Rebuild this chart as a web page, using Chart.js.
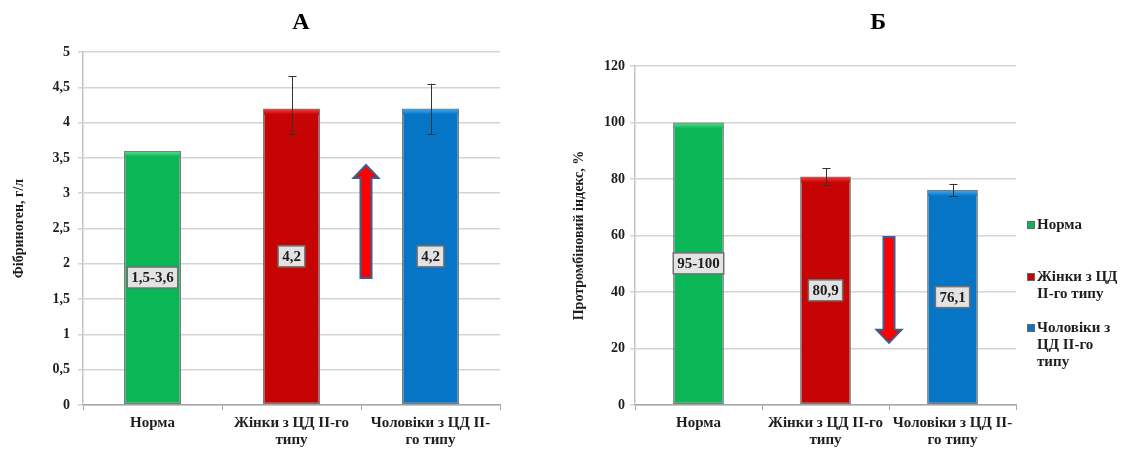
<!DOCTYPE html>
<html>
<head>
<meta charset="utf-8">
<script src="https://cdn.jsdelivr.net/npm/chart.js@4"></script>
<style>
  html, body { margin: 0; padding: 0; background: #fff; }
  #wrap { position: relative; width: 1121px; height: 450px; }
  .panel { position: absolute; top: 0; height: 450px; }
  #pa { left: 0; width: 560px; }
  #pb { left: 560px; width: 561px; }
</style>
</head>
<body>
<div id="wrap">
  <div class="panel" id="pa"><canvas id="ca"></canvas></div>
  <div class="panel" id="pb"><canvas id="cb"></canvas></div>
</div>
<script>
// Shared categories and colours
const categories = [["Норма"], ["Жінки з ЦД ІІ-го", "типу"], ["Чоловіки з ЦД ІІ-", "го типу"]];
const legendNames = [["Норма"], ["Жінки з ЦД", "ІІ-го типу"], ["Чоловіки з", "ЦД ІІ-го", "типу"]];
const barColors = ["#0bb656", "#c70404", "#0775c6"];
const barHighlights = ["#4fd98a", "#ee3a3a", "#3fa3ea"];

// Panel А: fibrinogen, g/l
const fibrinogen = [3.6, 4.2, 4.2];
const fibrinogenLabels = ["1,5-3,6", "4,2", "4,2"];
const fibrinogenErrLow = [null, 3.84, 3.84];
const fibrinogenErrHigh = [null, 4.66, 4.55];
const fibrinogenArrow = [1.8, 3.4];          // from, to (upward)
const fibrinogenTicks = [0, 0.5, 1, 1.5, 2, 2.5, 3, 3.5, 4, 4.5, 5];

// Panel Б: prothrombin index, %
const prothrombin = [100, 80.9, 76.1];
const prothrombinLabels = ["95-100", "80,9", "76,1"];
const prothrombinErrLow = [null, 77.8, 73.9];
const prothrombinErrHigh = [null, 83.9, 78.3];
const prothrombinArrow = [59.5, 22];         // from, to (downward)
const prothrombinTicks = [0, 20, 40, 60, 80, 100, 120];

const serif = '"Liberation Serif", "Times New Roman", serif';
const textColor = '#1e1e1e';

// Big letter above each panel
const panelTitle = {
  id: 'panelTitle',
  afterDraw(chart, args, o) {
    const ctx = chart.ctx;
    ctx.save();
    ctx.font = `bold 24px ${serif}`;
    ctx.fillStyle = '#000';
    ctx.textAlign = 'center';
    ctx.textBaseline = 'middle';
    ctx.fillText(o.text, chart.width * o.x, o.y);
    ctx.restore();
  }
};

// Light bevel along the top edge of each bar
const barSheen = {
  id: 'barSheen',
  afterDatasetsDraw(chart) {
    const ctx = chart.ctx;
    const meta = chart.getDatasetMeta(0);
    ctx.save();
    meta.data.forEach((bar, i) => {
      const x0 = bar.x - bar.width / 2 + 1;
      const w = bar.width - 2;
      const g = ctx.createLinearGradient(0, bar.y + 1, 0, bar.y + 6);
      g.addColorStop(0, barHighlights[i]);
      g.addColorStop(1, barColors[i]);
      ctx.fillStyle = g;
      ctx.fillRect(x0, bar.y + 1, w, 5);
    });
    ctx.restore();
  }
};

// Vertical error bars with caps
const errorBars = {
  id: 'errorBars',
  afterDatasetsDraw(chart, args, o) {
    const ctx = chart.ctx, y = chart.scales.y;
    const meta = chart.getDatasetMeta(0);
    ctx.save();
    ctx.strokeStyle = '#333';
    ctx.lineWidth = 1;
    meta.data.forEach((bar, i) => {
      if (o.low[i] == null) return;
      const x = Math.round(bar.x) + 0.5;
      const y1 = y.getPixelForValue(o.low[i]);
      const y2 = y.getPixelForValue(o.high[i]);
      ctx.beginPath();
      ctx.moveTo(x, y1); ctx.lineTo(x, y2);
      ctx.moveTo(x - 4, Math.round(y1) + 0.5); ctx.lineTo(x + 4, Math.round(y1) + 0.5);
      ctx.moveTo(x - 4, Math.round(y2) + 0.5); ctx.lineTo(x + 4, Math.round(y2) + 0.5);
      ctx.stroke();
    });
    ctx.restore();
  }
};

// Boxed value labels in the middle of each bar
const boxLabels = {
  id: 'boxLabels',
  afterDatasetsDraw(chart, args, o) {
    const ctx = chart.ctx;
    const meta = chart.getDatasetMeta(0);
    ctx.save();
    ctx.font = `bold 15px ${serif}`;
    ctx.textAlign = 'center';
    ctx.textBaseline = 'middle';
    meta.data.forEach((bar, i) => {
      const t = o.texts[i];
      const cy = (bar.y + bar.base) / 2;
      const w = ctx.measureText(t).width + 8;
      const h = 21;
      ctx.fillStyle = '#e3e3e3';
      ctx.fillRect(bar.x - w / 2, cy - h / 2, w, h);
      ctx.strokeStyle = '#707070';
      ctx.lineWidth = 1.5;
      ctx.strokeRect(bar.x - w / 2, cy - h / 2, w, h);
      ctx.fillStyle = textColor;
      ctx.fillText(t, bar.x, cy + 1);
    });
    ctx.restore();
  }
};

// Block arrow between the 2nd and 3rd bar
const trendArrow = {
  id: 'trendArrow',
  afterDatasetsDraw(chart, args, o) {
    const ctx = chart.ctx, y = chart.scales.y;
    const meta = chart.getDatasetMeta(0);
    const x = (meta.data[1].x + meta.data[2].x) / 2 + o.dx;
    const yFrom = y.getPixelForValue(o.range[0]);
    const yTo = y.getPixelForValue(o.range[1]);
    const dir = yTo < yFrom ? -1 : 1;
    const hw = 5.5, headW = 12.5, headL = 13;
    const yNeck = yTo - dir * headL;
    ctx.save();
    ctx.beginPath();
    ctx.moveTo(x - hw, yFrom);
    ctx.lineTo(x - hw, yNeck);
    ctx.lineTo(x - headW, yNeck);
    ctx.lineTo(x, yTo);
    ctx.lineTo(x + headW, yNeck);
    ctx.lineTo(x + hw, yNeck);
    ctx.lineTo(x + hw, yFrom);
    ctx.closePath();
    ctx.fillStyle = '#ff0000';
    ctx.fill();
    ctx.strokeStyle = '#3b5d8f';
    ctx.lineWidth = 2;
    ctx.lineJoin = 'miter';
    ctx.stroke();
    ctx.restore();
  }
};

// Legend with wrapped names to the right of the plot
const sideLegend = {
  id: 'sideLegend',
  afterDraw(chart, args, o) {
    if (!o.show) return;
    const ctx = chart.ctx;
    const x0 = chart.chartArea.right + 15;
    ctx.save();
    ctx.font = `bold 15px ${serif}`;
    ctx.textBaseline = 'middle';
    ctx.textAlign = 'left';
    let yy = o.top;
    legendNames.forEach((lines, i) => {
      ctx.fillStyle = barColors[i];
      ctx.fillRect(x0 - 4, yy - 4, 8, 8);
      ctx.strokeStyle = '#666';
      ctx.lineWidth = 1;
      ctx.strokeRect(x0 - 4 + 0.5, yy - 4 + 0.5, 7, 7);
      ctx.fillStyle = textColor;
      lines.forEach((ln, k) => ctx.fillText(ln, x0 + 6, yy + k * 17));
      yy += o.gaps[i] || 0;
    });
    ctx.restore();
  }
};

function makeChart(canvasId, cfg) {
  return new Chart(document.getElementById(canvasId), {
    type: 'bar',
    data: {
      labels: categories,
      datasets: [{
        data: cfg.values,
        backgroundColor: barColors,
        borderColor: '#7a7a7a',
        borderWidth: 1.5,
        borderSkipped: false,
        categoryPercentage: 1,
        barPercentage: cfg.barPct
      }]
    },
    options: {
      responsive: true,
      maintainAspectRatio: false,
      animation: false,
      layout: { padding: cfg.padding },
      plugins: {
        legend: { display: false },
        tooltip: { enabled: false },
        panelTitle: { text: cfg.title, x: cfg.titleX, y: 23 },
        errorBars: { low: cfg.errLow, high: cfg.errHigh },
        boxLabels: { texts: cfg.labels },
        trendArrow: { range: cfg.arrow, dx: cfg.arrowDx },
        sideLegend: cfg.legend
      },
      scales: {
        x: {
          grid: { drawOnChartArea: false, drawTicks: true, tickLength: 5, color: '#a6a6a6', offset: true },
          border: { color: '#a6a6a6', width: 1.5 },
          ticks: {
            color: textColor,
            font: { family: serif, size: 15, weight: 'bold', lineHeight: 1.15 },
            padding: 4, maxRotation: 0, autoSkip: false
          },
          afterFit(s) { s.height = 45; }
        },
        y: {
          min: cfg.ticks[0],
          max: cfg.ticks[cfg.ticks.length - 1],
          afterBuildTicks(s) { s.ticks = cfg.ticks.map(v => ({ value: v })); },
          grid: { color: '#d4d4d4', lineWidth: 1.5, tickLength: 5 },
          border: { color: '#c4c4c4', width: 1.5 },
          ticks: {
            color: textColor,
            font: { family: serif, size: 14, weight: 'bold' },
            padding: cfg.tickPad,
            callback: v => String(v).replace('.', ',')
          },
          title: {
            display: true,
            text: cfg.yTitle,
            color: textColor,
            font: { family: serif, size: 14, weight: 'bold' },
            padding: { top: 4, bottom: 4 }
          },
          afterFit(s) { s.width = cfg.yWidth; }
        }
      }
    },
    plugins: [panelTitle, barSheen, errorBars, boxLabels, trendArrow, sideLegend]
  });
}

makeChart('ca', {
  values: fibrinogen, labels: fibrinogenLabels,
  errLow: fibrinogenErrLow, errHigh: fibrinogenErrHigh,
  arrow: fibrinogenArrow, arrowDx: 5,
  ticks: fibrinogenTicks,
  yTitle: 'Фібриноген, г/л',
  title: 'А', titleX: 0.5375,
  barPct: 0.41, tickPad: 8,
  padding: { left: 7, right: 60, top: 52, bottom: 0 },
  yWidth: 76,
  legend: { show: false }
});

makeChart('cb', {
  values: prothrombin, labels: prothrombinLabels,
  errLow: prothrombinErrLow, errHigh: prothrombinErrHigh,
  arrow: prothrombinArrow, arrowDx: 0,
  ticks: prothrombinTicks,
  yTitle: 'Протромбіновий індекс, %',
  title: 'Б', titleX: 0.567,
  barPct: 0.40, tickPad: 5,
  padding: { left: 7, right: 105, top: 66, bottom: 0 },
  yWidth: 68,
  legend: { show: true, top: 225, gaps: [52, 51] }
});
</script>
</body>
</html>
